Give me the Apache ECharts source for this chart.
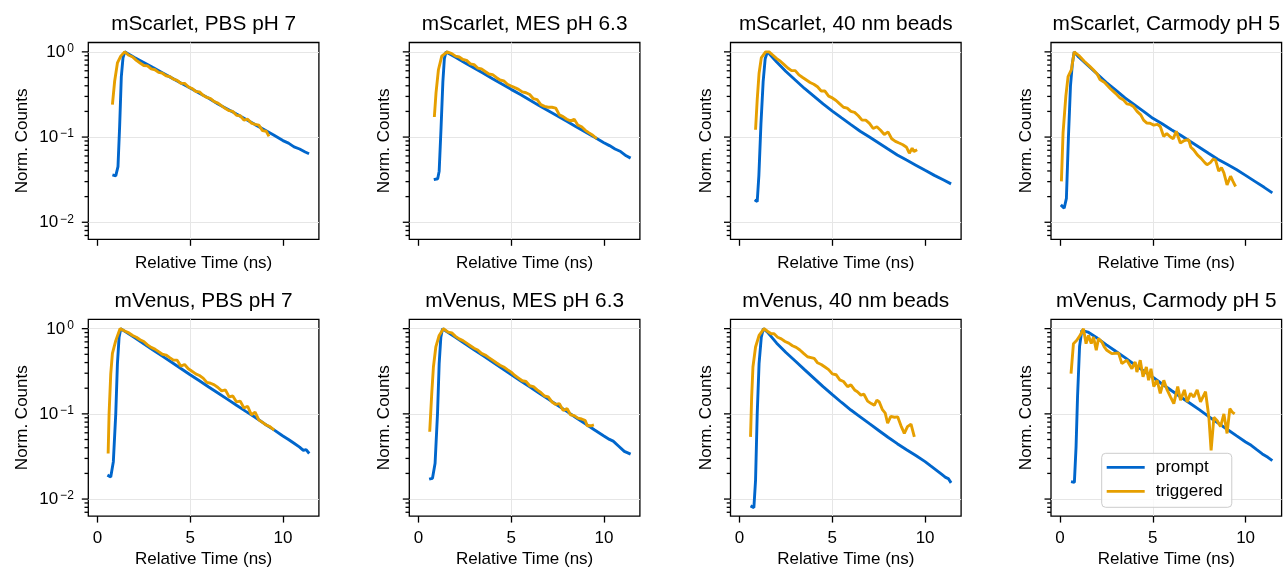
<!DOCTYPE html>
<html><head><meta charset="utf-8">
<script src="https://cdn.jsdelivr.net/npm/echarts@6/dist/echarts.min.js"></script>
<style>html,body{margin:0;padding:0;background:#fff}#c{width:1288px;height:571px}</style>
</head><body><div id="c"></div>
<script>
// ---------- DATA (time in ns, normalised counts) ----------
const panelTitles = ['mScarlet, PBS pH 7','mScarlet, MES pH 6.3','mScarlet, 40 nm beads','mScarlet, Carmody pH 5',
                     'mVenus, PBS pH 7','mVenus, MES pH 6.3','mVenus, 40 nm beads','mVenus, Carmody pH 5'];
const seriesNames = ['prompt','triggered'];
const xTicks = [0, 5, 10];
const yMajorTicks = [0.01, 0.1, 1];
const yMinorTicks = [0.007,0.008,0.009,0.02,0.03,0.04,0.05,0.06,0.07,0.08,0.09,0.2,0.3,0.4,0.5,0.6,0.7,0.8,0.9];

const scarletPBS_prompt = [[0.81,0.036],[0.99,0.035],[1.11,0.045],[1.20,0.135],[1.29,0.513],[1.38,0.851],[1.47,1.0],[2.0,0.861],[2.5,0.750],[3.0,0.653],[3.5,0.569],[4.0,0.495],[4.5,0.432],[5.0,0.377],[5.5,0.327],[6.0,0.285],[6.5,0.245],[7.0,0.214],[7.5,0.186],[8.0,0.162],[8.5,0.140],[9.0,0.122],[9.5,0.106],[10.0,0.091],[10.3,0.085],[10.6,0.0767],[10.9,0.0724],[11.2,0.0668],[11.41,0.0637]];
const scarletPBS_trig = [[0.81,0.240],[0.93,0.452],[1.08,0.741],[1.26,0.891],[1.47,1.0],[1.7,0.912],[1.9,0.871],[2.1,0.794],[2.3,0.741],[2.5,0.692],[2.7,0.684],[2.9,0.631],[3.1,0.617],[3.3,0.575],[3.5,0.562],[3.7,0.525],[3.9,0.513],[4.1,0.479],[4.3,0.462],[4.5,0.427],[4.7,0.427],[4.9,0.389],[5.1,0.372],[5.3,0.343],[5.5,0.339],[5.7,0.309],[5.9,0.292],[6.1,0.282],[6.3,0.260],[6.5,0.251],[6.7,0.232],[6.9,0.216],[7.1,0.204],[7.3,0.200],[7.5,0.180],[7.7,0.178],[7.9,0.158],[8.1,0.162],[8.3,0.146],[8.5,0.141],[8.7,0.138],[8.9,0.119],[9.1,0.117],[9.25,0.102]];

const scarletMES_prompt = [[0.83,0.0316],[1.04,0.0324],[1.12,0.0398],[1.22,0.126],[1.32,0.447],[1.40,0.832],[1.49,1.0],[2.0,0.863],[2.5,0.746],[3.0,0.646],[3.5,0.560],[4.0,0.484],[4.5,0.419],[5.0,0.363],[5.5,0.315],[6.0,0.272],[6.5,0.235],[7.0,0.204],[7.5,0.177],[8.0,0.153],[8.5,0.132],[9.0,0.115],[9.5,0.0993],[10.0,0.0859],[10.3,0.0794],[10.6,0.0724],[10.9,0.0676],[11.2,0.0603],[11.44,0.0566]];
const scarletMES_trig = [[0.86,0.172],[0.95,0.331],[1.08,0.617],[1.26,0.891],[1.55,1.0],[1.8,0.955],[2.0,0.891],[2.2,0.871],[2.4,0.813],[2.6,0.794],[2.8,0.724],[3.0,0.708],[3.2,0.646],[3.4,0.631],[3.6,0.589],[3.8,0.550],[4.0,0.540],[4.2,0.501],[4.4,0.468],[4.6,0.457],[4.8,0.417],[5.0,0.398],[5.2,0.380],[5.4,0.363],[5.6,0.339],[5.8,0.331],[6.0,0.316],[6.2,0.282],[6.4,0.275],[6.6,0.240],[6.8,0.229],[7.0,0.224],[7.2,0.224],[7.4,0.219],[7.6,0.182],[7.8,0.174],[8.0,0.162],[8.2,0.155],[8.4,0.162],[8.6,0.138],[8.8,0.132],[9.0,0.120],[9.2,0.112],[9.4,0.105],[9.62,0.0955]];

const scarlet40_prompt = [[0.81,0.0183],[0.95,0.0175],[1.04,0.0355],[1.15,0.141],[1.27,0.447],[1.38,0.832],[1.50,1.0],[2.0,0.759],[2.5,0.589],[3.0,0.468],[3.5,0.372],[4.0,0.302],[4.5,0.245],[5.0,0.202],[5.5,0.168],[6.0,0.140],[6.5,0.117],[7.0,0.100],[7.5,0.0851],[8.0,0.0724],[8.5,0.0617],[9.0,0.0537],[9.5,0.0468],[10.0,0.0407],[10.5,0.0355],[11.0,0.0313],[11.4,0.0282]];
const scarlet40_trig = [[0.86,0.122],[0.95,0.275],[1.05,0.562],[1.17,0.851],[1.40,1.0],[1.59,1.0],[1.8,0.912],[2.0,0.832],[2.2,0.776],[2.4,0.708],[2.6,0.646],[2.8,0.603],[3.0,0.603],[3.2,0.537],[3.4,0.501],[3.6,0.468],[3.8,0.437],[4.0,0.417],[4.2,0.389],[4.4,0.347],[4.6,0.347],[4.8,0.302],[5.0,0.288],[5.2,0.269],[5.4,0.245],[5.6,0.224],[5.8,0.219],[6.0,0.200],[6.2,0.195],[6.4,0.178],[6.6,0.158],[6.8,0.158],[7.0,0.145],[7.2,0.126],[7.4,0.132],[7.6,0.120],[7.8,0.107],[8.0,0.115],[8.2,0.0955],[8.4,0.0891],[8.6,0.0851],[8.8,0.0813],[9.0,0.0759],[9.15,0.0646],[9.3,0.0741],[9.4,0.0676],[9.57,0.0708]];

const scarletCarm_prompt = [[0.04,0.016],[0.22,0.0146],[0.34,0.0191],[0.45,0.1],[0.56,0.398],[0.66,0.724],[0.76,1.0],[1.0,0.871],[1.5,0.692],[2.0,0.550],[2.5,0.437],[3.0,0.355],[3.5,0.288],[4.0,0.240],[4.5,0.200],[5.0,0.166],[5.5,0.143],[6.0,0.122],[6.5,0.105],[7.0,0.0891],[7.5,0.0759],[8.0,0.0646],[8.5,0.0550],[9.0,0.0479],[9.5,0.0417],[10.0,0.0355],[10.5,0.0302],[11.0,0.0257],[11.44,0.0221]];
const scarletCarm_trig = [[0.07,0.0302],[0.16,0.112],[0.31,0.302],[0.43,0.513],[0.61,0.617],[0.76,1.0],[1.0,0.912],[1.3,0.776],[1.6,0.676],[1.79,0.617],[2.0,0.550],[2.15,0.473],[2.4,0.437],[2.7,0.372],[2.9,0.339],[3.05,0.316],[3.23,0.288],[3.4,0.275],[3.6,0.245],[3.8,0.240],[3.95,0.229],[4.15,0.200],[4.35,0.182],[4.5,0.158],[4.68,0.146],[4.85,0.145],[5.05,0.138],[5.25,0.141],[5.4,0.133],[5.58,0.102],[5.75,0.110],[5.95,0.100],[6.1,0.0955],[6.26,0.117],[6.48,0.0851],[6.7,0.0912],[6.93,0.0933],[7.05,0.0759],[7.2,0.0708],[7.4,0.0617],[7.6,0.0562],[7.8,0.0501],[7.92,0.0473],[8.1,0.0501],[8.25,0.0550],[8.38,0.0537],[8.55,0.0398],[8.7,0.0437],[8.83,0.0380],[9.0,0.0275],[9.19,0.0347],[9.32,0.0302],[9.46,0.0263]];

const venusPBS_prompt = [[0.54,0.0191],[0.72,0.0182],[0.86,0.0275],[0.99,0.1],[1.08,0.389],[1.17,0.794],[1.26,1.0],[1.5,0.923],[2.0,0.785],[2.5,0.664],[3.0,0.562],[3.5,0.476],[4.0,0.403],[4.5,0.341],[5.0,0.288],[5.5,0.245],[6.0,0.207],[6.5,0.176],[7.0,0.149],[7.5,0.126],[8.0,0.107],[8.5,0.0912],[9.0,0.0767],[9.5,0.0653],[10.0,0.0550],[10.3,0.0501],[10.6,0.0452],[10.9,0.0407],[11.1,0.0372],[11.25,0.0380],[11.42,0.0343]];
const venusPBS_trig = [[0.58,0.0343],[0.63,0.1],[0.72,0.295],[0.81,0.513],[0.99,0.724],[1.22,1.0],[1.5,0.933],[1.7,0.891],[1.9,0.832],[2.1,0.794],[2.3,0.741],[2.5,0.708],[2.7,0.646],[2.9,0.603],[3.1,0.575],[3.3,0.537],[3.5,0.501],[3.7,0.490],[3.9,0.457],[4.1,0.427],[4.3,0.427],[4.5,0.363],[4.7,0.380],[4.9,0.339],[5.1,0.316],[5.3,0.295],[5.5,0.282],[5.7,0.263],[5.9,0.234],[6.1,0.229],[6.3,0.219],[6.5,0.204],[6.7,0.186],[6.9,0.191],[7.1,0.158],[7.3,0.162],[7.5,0.138],[7.7,0.141],[7.9,0.117],[8.1,0.123],[8.3,0.0977],[8.5,0.105],[8.7,0.0851],[8.9,0.0794],[9.1,0.0741],[9.3,0.0708],[9.53,0.0646]];

const venusMES_prompt = [[0.58,0.0171],[0.76,0.0175],[0.90,0.0263],[1.03,0.1],[1.12,0.389],[1.21,0.794],[1.30,1.0],[1.5,0.933],[2.0,0.794],[2.5,0.668],[3.0,0.565],[3.5,0.479],[4.0,0.406],[4.5,0.343],[5.0,0.290],[5.5,0.245],[6.0,0.208],[6.5,0.176],[7.0,0.149],[7.5,0.126],[8.0,0.107],[8.5,0.0902],[9.0,0.0767],[9.5,0.0646],[10.0,0.0550],[10.3,0.0501],[10.5,0.0479],[10.8,0.0417],[11.1,0.0363],[11.44,0.0337]];
const venusMES_trig = [[0.61,0.0617],[0.72,0.174],[0.81,0.355],[0.94,0.610],[1.12,0.832],[1.35,1.0],[1.6,0.912],[1.8,0.891],[2.0,0.813],[2.2,0.759],[2.4,0.724],[2.6,0.676],[2.8,0.631],[3.0,0.589],[3.2,0.562],[3.4,0.513],[3.6,0.490],[3.8,0.457],[4.0,0.427],[4.2,0.398],[4.4,0.372],[4.6,0.355],[4.8,0.331],[5.0,0.309],[5.2,0.282],[5.4,0.263],[5.6,0.245],[5.8,0.240],[6.0,0.214],[6.2,0.209],[6.4,0.191],[6.6,0.178],[6.8,0.162],[7.0,0.158],[7.2,0.138],[7.4,0.129],[7.6,0.132],[7.8,0.110],[8.02,0.115],[8.2,0.0977],[8.4,0.0955],[8.6,0.0891],[8.8,0.0871],[9.0,0.0832],[9.1,0.0724],[9.3,0.0724],[9.46,0.0741]];

const venus40_prompt = [[0.59,0.00832],[0.77,0.00794],[0.86,0.0166],[0.95,0.1],[1.05,0.389],[1.17,0.794],[1.28,1.0],[1.5,0.912],[2.0,0.676],[2.5,0.525],[3.0,0.417],[3.5,0.331],[4.0,0.263],[4.5,0.209],[5.0,0.168],[5.5,0.136],[6.0,0.111],[6.5,0.0923],[7.0,0.0767],[7.5,0.0638],[8.0,0.0531],[8.5,0.0447],[9.0,0.0380],[9.5,0.0324],[10.0,0.0275],[10.3,0.0245],[10.6,0.0219],[10.9,0.0195],[11.1,0.0180],[11.25,0.0174],[11.4,0.0155]];
const venus40_trig = [[0.59,0.0537],[0.65,0.158],[0.72,0.355],[0.86,0.610],[1.05,0.832],[1.32,1.0],[1.5,0.933],[1.7,0.871],[1.86,0.871],[2.05,0.794],[2.25,0.759],[2.45,0.708],[2.65,0.676],[2.85,0.631],[3.05,0.603],[3.25,0.562],[3.45,0.513],[3.66,0.468],[3.85,0.457],[4.02,0.447],[4.2,0.398],[4.4,0.380],[4.6,0.355],[4.8,0.331],[5.0,0.295],[5.2,0.288],[5.4,0.251],[5.6,0.240],[5.82,0.209],[6.0,0.219],[6.2,0.191],[6.35,0.182],[6.54,0.166],[6.7,0.170],[6.9,0.141],[7.1,0.132],[7.26,0.126],[7.4,0.145],[7.53,0.138],[7.7,0.112],[7.85,0.102],[7.98,0.0776],[8.15,0.0933],[8.35,0.0912],[8.52,0.0923],[8.7,0.0724],[8.88,0.0589],[9.05,0.0708],[9.24,0.0759],[9.42,0.0537]];

const venusCarm_prompt = [[0.59,0.0160],[0.77,0.0157],[0.86,0.0407],[0.94,0.158],[1.05,0.617],[1.17,0.955],[1.26,1.0],[1.5,0.912],[2.0,0.776],[2.5,0.646],[3.0,0.543],[3.5,0.457],[4.0,0.380],[4.5,0.320],[5.0,0.269],[5.5,0.224],[6.0,0.188],[6.5,0.158],[7.0,0.133],[7.5,0.112],[8.0,0.0933],[8.5,0.0785],[9.0,0.0661],[9.5,0.0556],[10.0,0.0468],[10.3,0.0427],[10.6,0.0380],[10.9,0.0339],[11.2,0.0309],[11.44,0.0282]];
const venusCarm_trig = [[0.59,0.297],[0.72,0.667],[0.9,0.730],[1.08,0.836],[1.26,1.0],[1.4,0.667],[1.53,0.836],[1.68,0.667],[1.8,0.798],[1.95,0.557],[2.07,0.764],[2.25,0.698],[2.38,0.610],[2.52,0.557],[2.79,0.509],[3.15,0.519],[3.33,0.389],[3.6,0.427],[3.87,0.339],[4.05,0.407],[4.14,0.309],[4.32,0.427],[4.47,0.272],[4.65,0.355],[4.77,0.248],[4.9,0.339],[5.05,0.209],[5.23,0.248],[5.4,0.174],[5.59,0.248],[5.77,0.191],[5.95,0.158],[6.13,0.132],[6.34,0.209],[6.49,0.145],[6.7,0.191],[6.85,0.138],[7.03,0.174],[7.21,0.158],[7.39,0.191],[7.57,0.138],[7.84,0.182],[8.02,0.0912],[8.14,0.0372],[8.29,0.0912],[8.47,0.0832],[8.65,0.0708],[8.83,0.100],[9.0,0.0589],[9.15,0.115],[9.28,0.105],[9.41,0.100]];

const promptData = [scarletPBS_prompt, scarletMES_prompt, scarlet40_prompt, scarletCarm_prompt, venusPBS_prompt, venusMES_prompt, venus40_prompt, venusCarm_prompt];
const triggeredData = [scarletPBS_trig, scarletMES_trig, scarlet40_trig, scarletCarm_trig, venusPBS_trig, venusMES_trig, venus40_trig, venusCarm_trig];

// ---------- LAYOUT / STYLE ----------
const FONT = 'Liberation Sans, Arial, sans-serif';
const BLUE = '#0066cc', ORANGE = '#e69f00';
const colLeft = [88.3, 409.3, 730.5, 1051];
const rowTop = [42.5, 319.3];
const W = 230.6, H = 196.8;
const XMIN = -0.49, XMAX = 11.94;
const YMIN = Math.pow(10, -2.2), YMAX = Math.pow(10, 0.11);
const GRIDC = '#e6e6e6';
const LW = 2.9;

const grids = [], xAxes = [], yAxes = [], series = [], titles = [];
const tickData = yMajorTicks.map(v => [XMIN, v, 6.5]).concat(yMinorTicks.map(v => [XMIN, v, 3.8]));

function supLabel(value) {
  const e = Math.log10(value);
  const r = Math.round(e);
  if (Math.abs(e - r) > 1e-6) return '';
  const s = r < 0 ? '\u2212' + (-r) : String(r);
  return '{b|10}{s|' + s + '}';
}

for (let i = 0; i < 8; i++) {
  const row = Math.floor(i / 4), col = i % 4;
  grids.push({left: colLeft[col], top: rowTop[row], width: W, height: H, show: true,
    borderColor: '#000', borderWidth: 1.3, backgroundColor: 'transparent', containLabel: false});
  xAxes.push({type: 'value', gridIndex: i, min: XMIN, max: XMAX, splitNumber: 2,
    axisLine: {show: false, onZero: false},
    axisTick: {show: true, customValues: xTicks, length: 6.5, lineStyle: {color: '#000', width: 1.3}},
    axisLabel: {show: row === 1, customValues: xTicks, margin: 14, fontSize: 17, color: '#000', fontFamily: FONT},
    splitLine: {show: true, showMinLine: false, showMaxLine: false, lineStyle: {color: GRIDC, width: 1}},
    name: 'Relative Time (ns)', nameLocation: 'middle', nameGap: row === 1 ? 34.5 : 15.5,
    nameTextStyle: {fontSize: 17, color: '#000', fontFamily: FONT}});
  yAxes.push({type: 'log', logBase: 10, gridIndex: i, min: YMIN, max: YMAX,
    axisLine: {show: false, onZero: false}, axisTick: {show: false},
    minorTick: {show: false}, minorSplitLine: {show: false},
    axisLabel: {show: col === 0, margin: 14.5, formatter: supLabel,
      rich: {b: {fontSize: 17, fontFamily: FONT, color: '#000', lineHeight: 18, padding: [5, 0, 0, 0], verticalAlign: 'bottom'},
             s: {fontSize: 12, fontFamily: FONT, color: '#000', lineHeight: 12, verticalAlign: 'top', padding: [0, 0, 0, 2]}}},
    splitLine: {show: true, showMinLine: false, showMaxLine: false, lineStyle: {color: GRIDC, width: 1}},
    name: 'Norm. Counts', nameLocation: 'middle', nameRotate: 90, nameGap: col === 0 ? 57 : 16,
    nameTextStyle: {fontSize: 17, color: '#000', fontFamily: FONT}});
  titles.push({text: panelTitles[i], left: colLeft[col] + W / 2, top: rowTop[row] - 28.5, textAlign: 'center', padding: 0,
    textStyle: {fontSize: 20.8, fontWeight: 'normal', color: '#000', fontFamily: FONT}});
  series.push({type: 'line', name: seriesNames[0], xAxisIndex: i, yAxisIndex: i, data: promptData[i],
    symbol: 'none', showSymbol: false, lineStyle: {color: BLUE, width: LW}, itemStyle: {color: BLUE}, z: 3});
  series.push({type: 'line', name: seriesNames[1], xAxisIndex: i, yAxisIndex: i, data: triggeredData[i],
    symbol: 'none', showSymbol: false, lineStyle: {color: ORANGE, width: LW}, itemStyle: {color: ORANGE}, z: 4});
  series.push({type: 'custom', xAxisIndex: i, yAxisIndex: i, data: tickData, clip: false, silent: true, z: 6,
    encode: {x: 0, y: 1},
    renderItem: function (params, api) {
      const p = api.coord([api.value(0), api.value(1)]);
      const len = api.value(2);
      return {type: 'line', shape: {x1: p[0] - len, y1: p[1], x2: p[0], y2: p[1]},
              style: {stroke: '#000', lineWidth: 1.3}};
    }});
}

const chart = echarts.init(document.getElementById('c'), null, {renderer: 'canvas'});
chart.setOption({
  animation: false,
  backgroundColor: '#fff',
  title: titles,
  grid: grids, xAxis: xAxes, yAxis: yAxes, series: series,
  legend: {show: true, data: [{name: seriesNames[0], icon: 'rect', itemStyle: {color: BLUE}},
                              {name: seriesNames[1], icon: 'rect', itemStyle: {color: ORANGE}}],
    orient: 'vertical', left: 1101.7, top: 453.3,
    itemWidth: 38, itemHeight: 2.8, itemGap: 6, padding: [5, 9, 7, 5],
    backgroundColor: 'rgba(255,255,255,0.8)', borderColor: '#cccccc', borderWidth: 1, borderRadius: 4,
    selectedMode: false,
    textStyle: {fontSize: 17, color: '#000', fontFamily: FONT, lineHeight: 18, padding: [0, 0, 0, 6]}}
});
</script>
</body></html>
